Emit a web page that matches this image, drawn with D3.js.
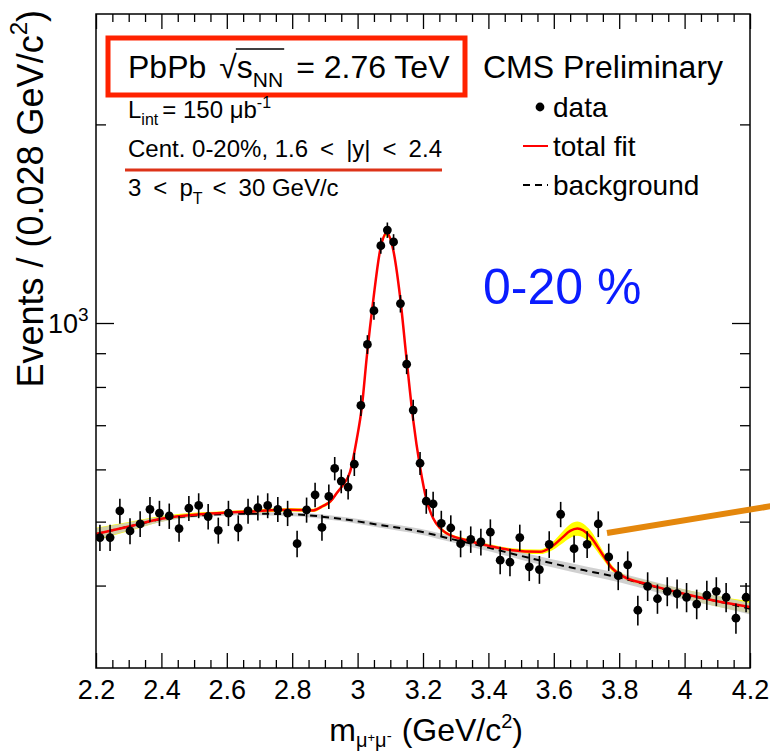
<!DOCTYPE html>
<html>
<head>
<meta charset="utf-8">
<script src="https://cdn.jsdelivr.net/npm/d3@7"></script>
<style>
    body { margin: 0; background: #fff; }
    svg { display: block; }
    text { font-family: "Liberation Sans", Arial, Helvetica, sans-serif; }
</style>
</head>
<body>
<div id="chart"></div>
<script>
// dimuon mass bins (GeV/c2) and counts
var dataMass = [2.212, 2.243, 2.273, 2.304, 2.335, 2.365, 2.394, 2.424, 2.454, 2.484,
    2.514, 2.543, 2.574, 2.605, 2.635, 2.665, 2.695, 2.725, 2.756, 2.786,
    2.815, 2.844, 2.870, 2.891, 2.912, 2.930, 2.950, 2.971, 2.990, 3.010,
    3.030, 3.050, 3.071, 3.091, 3.110, 3.131, 3.150, 3.170, 3.191, 3.210,
    3.231, 3.256, 3.285, 3.315, 3.346, 3.377, 3.406, 3.436, 3.466, 3.496,
    3.525, 3.556, 3.586, 3.621, 3.662, 3.702, 3.736, 3.768, 3.797, 3.826,
    3.857, 3.887, 3.917, 3.947, 3.977, 4.006, 4.037, 4.068, 4.097, 4.127,
    4.157, 4.188];
var dataCount = [473, 473, 519, 484, 496, 522, 515, 510, 488, 524,
    529, 509, 485, 515, 489, 519, 525, 529, 522, 515,
    463, 521, 549, 490, 546, 602, 576, 564, 611, 750,
    928, 1044, 1310, 1383, 1327, 1070, 866, 738, 613, 537,
    532, 497, 489, 463, 470, 466, 482, 437, 434, 473,
    427, 423, 462, 513, 455, 462, 496, 442, 414, 430,
    367, 399, 382, 392, 389, 384, 375, 387, 392, 384,
    357, 384];

// total fit, read at a set of masses, with its relative uncertainty
var fitMass = [2.2, 2.304, 2.399, 2.518, 2.598, 2.671, 2.793, 2.864, 2.894, 2.916,
    2.937, 2.955, 2.977, 2.997, 3.013, 3.028, 3.048, 3.069, 3.089, 3.109,
    3.13, 3.15, 3.17, 3.191, 3.211, 3.231, 3.252, 3.272, 3.344, 3.405,
    3.466, 3.558, 3.588, 3.624, 3.65, 3.672, 3.711, 3.75, 3.778, 3.812,
    3.885, 3.985, 4.086, 4.2];
var fitVal = [479, 492, 505, 513, 516, 518, 521, 520, 528, 536,
    553, 568, 595, 665, 746, 888, 1084, 1290, 1369, 1290,
    1095, 879, 713, 605, 539, 506, 489, 480, 467, 459,
    453, 450, 456, 472, 484, 488, 475, 445, 425, 413,
    402, 390, 380, 371];
var fitErr = [0.022, 0.016, 0.01, 0.007, 0.006, 0.006, 0.006, 0.006, 0.006, 0.006,
    0.006, 0.006, 0.006, 0.006, 0.006, 0.006, 0.007, 0.008, 0.01, 0.008,
    0.007, 0.006, 0.006, 0.006, 0.006, 0.006, 0.006, 0.006, 0.006, 0.007,
    0.007, 0.008, 0.012, 0.02, 0.024, 0.025, 0.022, 0.015, 0.01, 0.009,
    0.012, 0.015, 0.018, 0.021];

// background component
var bkgMass = [2.2, 2.304, 2.399, 2.518, 2.671, 2.793, 2.946, 3.069, 3.191, 3.292,
    3.396, 3.497, 3.598, 3.702, 3.803, 3.903, 4.007, 4.108, 4.2];
var bkgVal = [479, 492, 504, 511, 514, 513, 505, 494, 483, 470,
    457, 444, 432, 421, 411, 399, 387, 378, 369];
var bkgErr = [0.02, 0.014, 0.009, 0.006, 0.005, 0.006, 0.008, 0.009, 0.01, 0.011,
    0.012, 0.013, 0.014, 0.015, 0.016, 0.017, 0.018, 0.019, 0.02];

var xMajor = [2.2, 2.4, 2.6, 2.8, 3.0, 3.2, 3.4, 3.6, 3.8, 4.0, 4.2];
var xMinor = d3.range(2.25, 4.2, 0.05).filter(function (d) {
    return Math.abs(Math.round(d * 5) - d * 5) > 0.01;
});
var yMajor = [1000];
var yMinor = [400, 500, 600, 700, 800, 900, 2000];

var W = 770, H = 754;
var L = 96, R = 750, T = 14, B = 668;
var FONT = '"Liberation Sans", Arial, Helvetica, sans-serif';

var x = d3.scaleLinear().domain([2.2, 4.2]).range([L, R]);
var y = d3.scaleLog().domain([300, 2940]).range([B, T]);

var svg = d3.select("#chart").append("svg")
        .attr("width", W)
        .attr("height", H);

svg.append("clipPath").attr("id", "frame")
        .append("rect")
        .attr("x", L).attr("y", T)
        .attr("width", R - L).attr("height", B - T);

// put a run of text pieces one after another (sub/superscripts)
function runText(g, x0, y0, parts) {
    var cx = x0;
    parts.forEach(function (p) {
        var t = g.append("text")
                .attr("x", cx)
                .attr("y", y0 + (p.dy || 0))
                .attr("font-size", p.size)
                .attr("fill", p.fill || "#000")
                .style("white-space", "pre")
                .text(p.t);
        p.x0 = cx;
        p.w = t.node().getComputedTextLength();
        cx += p.w + (p.gap || 0);
        p.x1 = cx;
    });
    return cx;
}

var fit = fitMass.map(function (m, i) {
    return {m: m, v: fitVal[i], e: fitErr[i]};
});
var bkg = bkgMass.map(function (m, i) {
    return {m: m, v: bkgVal[i], e: bkgErr[i]};
});
var pts = dataMass.map(function (m, i) {
    return {m: m, c: dataCount[i]};
});

var band = d3.area()
        .x(function (d) { return x(d.m); })
        .y0(function (d) { return y(d.v * (1 - d.e)); })
        .y1(function (d) { return y(d.v * (1 + d.e)); })
        .curve(d3.curveMonotoneX);
var line = d3.line()
        .x(function (d) { return x(d.m); })
        .y(function (d) { return y(d.v); })
        .curve(d3.curveMonotoneX);

var plot = svg.append("g").attr("clip-path", "url(#frame)");

plot.append("path").datum(fit)
        .attr("d", band)
        .attr("fill", "#ffff00");
plot.append("path").datum(bkg)
        .attr("d", band)
        .attr("fill", "#c8c8c8")
        .attr("fill-opacity", 0.85);
plot.append("path").datum(bkg)
        .attr("d", line)
        .attr("fill", "none")
        .attr("stroke", "#000")
        .attr("stroke-width", 2)
        .attr("stroke-dasharray", "7,5");
plot.append("path").datum(fit)
        .attr("d", line)
        .attr("fill", "none")
        .attr("stroke", "#ff0000")
        .attr("stroke-width", 2.5);

var node = plot.selectAll(".pt")
        .data(pts)
        .enter()
        .append("g")
        .attr("class", "pt");
node.append("line")
        .attr("x1", function (d) { return x(d.m); })
        .attr("x2", function (d) { return x(d.m); })
        .attr("y1", function (d) { return y(d.c + Math.sqrt(d.c)); })
        .attr("y2", function (d) { return y(d.c - Math.sqrt(d.c)); })
        .attr("stroke", "#000")
        .attr("stroke-width", 1.6);
node.append("circle")
        .attr("cx", function (d) { return x(d.m); })
        .attr("cy", function (d) { return y(d.c); })
        .attr("r", 4.4)
        .attr("fill", "#000");

// axes, ROOT style: ticks inside on all four sides
function styleAxis(g) {
    g.select(".domain").remove();
    g.selectAll("line").attr("stroke", "#000").attr("stroke-width", 1.3);
    g.selectAll("text")
            .attr("font-family", FONT)
            .attr("font-size", 27)
            .attr("fill", "#000");
}

svg.append("g")
        .attr("transform", "translate(0," + B + ")")
        .call(d3.axisBottom(x).tickValues(xMajor).tickSize(-15).tickPadding(12)
                .tickFormat(function (d) { return String(+d.toFixed(1)); }))
        .call(styleAxis);
svg.append("g")
        .attr("transform", "translate(0," + B + ")")
        .call(d3.axisBottom(x).tickValues(xMinor).tickSize(-8).tickFormat(""))
        .call(styleAxis);
svg.append("g")
        .attr("transform", "translate(0," + T + ")")
        .call(d3.axisTop(x).tickValues(xMajor).tickSize(-15).tickFormat(""))
        .call(styleAxis);
svg.append("g")
        .attr("transform", "translate(0," + T + ")")
        .call(d3.axisTop(x).tickValues(xMinor).tickSize(-8).tickFormat(""))
        .call(styleAxis);
svg.append("g")
        .attr("transform", "translate(" + L + ",0)")
        .call(d3.axisLeft(y).tickValues(yMajor).tickSize(-18).tickFormat(""))
        .call(styleAxis);
svg.append("g")
        .attr("transform", "translate(" + L + ",0)")
        .call(d3.axisLeft(y).tickValues(yMinor).tickSize(-10).tickFormat(""))
        .call(styleAxis);
svg.append("g")
        .attr("transform", "translate(" + R + ",0)")
        .call(d3.axisRight(y).tickValues(yMajor).tickSize(-18).tickFormat(""))
        .call(styleAxis);
svg.append("g")
        .attr("transform", "translate(" + R + ",0)")
        .call(d3.axisRight(y).tickValues(yMinor).tickSize(-10).tickFormat(""))
        .call(styleAxis);

svg.append("rect")
        .attr("x", L).attr("y", T)
        .attr("width", R - L).attr("height", B - T)
        .attr("fill", "none")
        .attr("stroke", "#000")
        .attr("stroke-width", 1.5);

// 10^3 label
var ylab = svg.append("g");
runText(ylab, 48, y(1000) + 10, [
    {t: "10", size: 27},
    {t: "3", size: 19, dy: -12}
]);

// axis titles
var yt = svg.append("g");
var ytw = runText(yt, 0, 0, [
    {t: "Events / (0.028 GeV/c", size: 36},
    {t: "2", size: 24, dy: -16},
    {t: ")", size: 36}
]);
yt.attr("transform", "translate(43," + (T - 4) + ") rotate(-90) translate(" + (-ytw) + ",0)");

var xt = svg.append("g");
var xtw = runText(xt, 0, 0, [
    {t: "m", size: 32},
    {t: "\u03bc", size: 20, dy: 6},
    {t: "+", size: 13, dy: 1},
    {t: "\u03bc", size: 20, dy: 6},
    {t: "-", size: 15, dy: 0, gap: 10},
    {t: "(GeV/c", size: 32},
    {t: "2", size: 20, dy: -13},
    {t: ")", size: 32}
]);
xt.attr("transform", "translate(" + (523 - xtw) + ",741)");

// header box
svg.append("rect")
        .attr("x", 108).attr("y", 38)
        .attr("width", 357).attr("height", 57)
        .attr("fill", "none")
        .attr("stroke", "#ff2200")
        .attr("stroke-width", 5);

var hdr = svg.append("g");
var hParts = [
    {t: "PbPb", size: 32, gap: 13},
    {t: "\u221a", size: 32},
    {t: "s", size: 32},
    {t: "NN", size: 21, dy: 9, gap: 13},
    {t: "= 2.76 TeV", size: 32}
];
runText(hdr, 128, 78, hParts);
hdr.append("line")
        .attr("x1", hParts[1].x1 - 1).attr("x2", hParts[3].x1 - 12)
        .attr("y1", 49).attr("y2", 49)
        .attr("stroke", "#000").attr("stroke-width", 1.3);

svg.append("text")
        .attr("x", 483).attr("y", 78)
        .attr("font-size", 32)
        .text("CMS Preliminary");

var info = svg.append("g");
runText(info, 128, 118, [
    {t: "L", size: 24},
    {t: "int", size: 16, dy: 7, gap: 4},
    {t: "= 150 \u03bcb", size: 24},
    {t: "-1", size: 16, dy: -10}
]);
runText(info, 128, 157, [
    {t: "Cent. 0-20%, 1.6", size: 24, gap: 12},
    {t: "<", size: 24, gap: 12},
    {t: "|y|", size: 24, gap: 12},
    {t: "<", size: 24, gap: 12},
    {t: "2.4", size: 24}
]);
runText(info, 128, 196, [
    {t: "3", size: 24, gap: 12},
    {t: "<", size: 24, gap: 12},
    {t: "p", size: 24},
    {t: "T", size: 16, dy: 8, gap: 10},
    {t: "<", size: 24, gap: 12},
    {t: "30 GeV/c", size: 24}
]);
svg.append("line")
        .attr("x1", 125).attr("x2", 442)
        .attr("y1", 170).attr("y2", 170)
        .attr("stroke", "#dd3318")
        .attr("stroke-width", 3);

// legend
var leg = svg.append("g");
leg.append("circle").attr("cx", 540).attr("cy", 107).attr("r", 4.4).attr("fill", "#000");
leg.append("line")
        .attr("x1", 523).attr("x2", 548).attr("y1", 146).attr("y2", 146)
        .attr("stroke", "#ff0000").attr("stroke-width", 2);
leg.append("line")
        .attr("x1", 523).attr("x2", 548).attr("y1", 185).attr("y2", 185)
        .attr("stroke", "#000").attr("stroke-width", 2)
        .attr("stroke-dasharray", "7,5");
["data", "total fit", "background"].forEach(function (s, i) {
    leg.append("text")
            .attr("x", 553).attr("y", 117 + i * 39)
            .attr("font-size", 28)
            .text(s);
});

svg.append("text")
        .attr("x", 483).attr("y", 304)
        .attr("font-size", 50)
        .attr("fill", "#0a1cff")
        .text("0-20 %");

// pointer to the psi(2S) peak
svg.append("line")
        .attr("x1", 607).attr("y1", 533)
        .attr("x2", 772).attr("y2", 506)
        .attr("stroke", "#e4870c")
        .attr("stroke-width", 6);
</script>
</body>
</html>
